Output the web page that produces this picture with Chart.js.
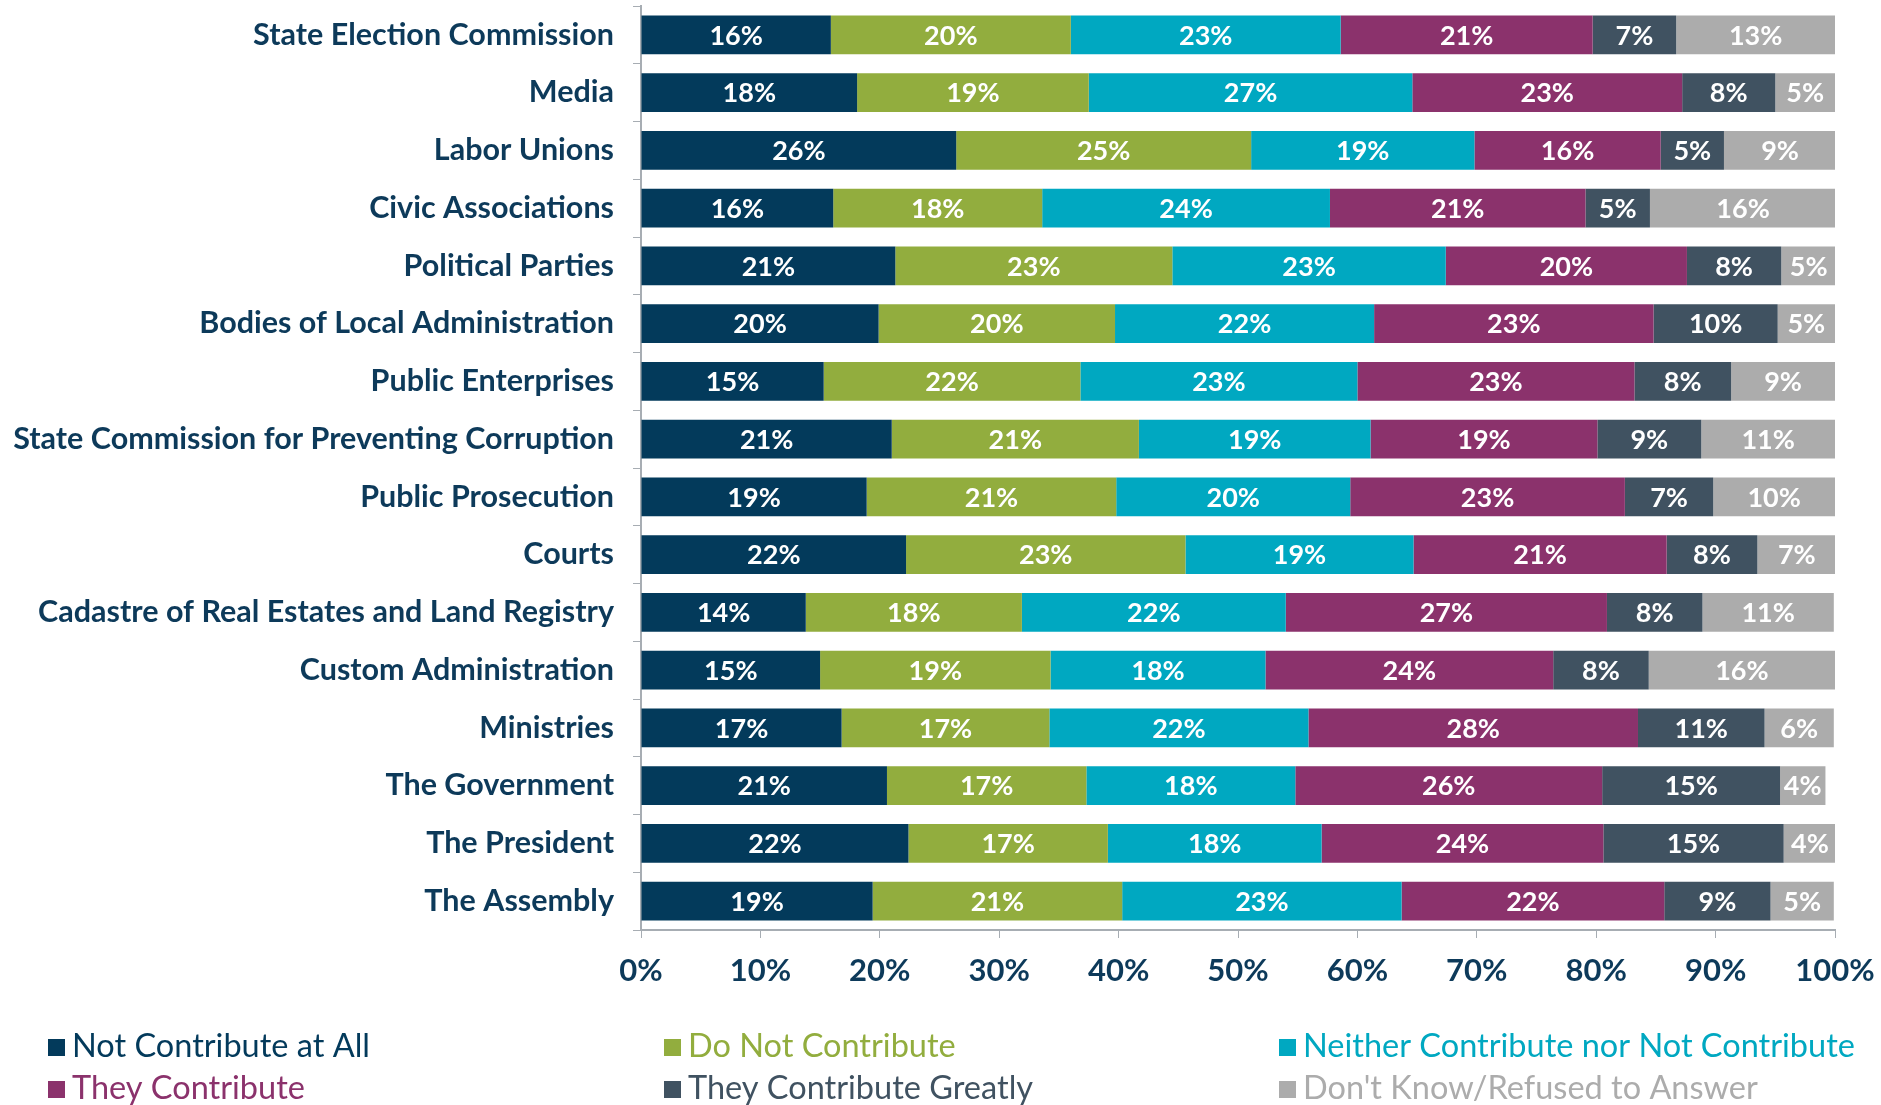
<!DOCTYPE html>
<html>
<head>
<meta charset="utf-8">
<script src="https://cdn.jsdelivr.net/npm/chart.js@4.4.1/dist/chart.umd.min.js"></script>
<style>
  body { margin: 0; background: #fff; }
  #wrap { width: 1881px; height: 1105px; position: relative; }
</style>
</head>
<body>
<div id="wrap"><canvas id="myChart" width="1881" height="1105"></canvas></div>
<script>
const categories = [
  "State Election Commission",
  "Media",
  "Labor Unions",
  "Civic Associations",
  "Political Parties",
  "Bodies of Local Administration",
  "Public Enterprises",
  "State Commission for Preventing Corruption",
  "Public Prosecution",
  "Courts",
  "Cadastre of Real Estates and Land Registry",
  "Custom Administration",
  "Ministries",
  "The Government",
  "The President",
  "The Assembly",
];

const seriesNames = [
  "Not Contribute at All",
  "Do Not Contribute",
  "Neither Contribute nor Not Contribute",
  "They Contribute",
  "They Contribute Greatly",
  "Don't Know/Refused to Answer",
];

const seriesColors = ["#033a5b", "#92ad3e", "#00a8c1", "#8b326c", "#405261", "#acacac"];

const notContributeAtAll = [15.9, 18.1, 26.4, 16.1, 21.3, 19.9, 15.3, 21.0, 18.9, 22.2, 13.8, 15.0, 16.8, 20.6, 22.4, 19.4];
const doNotContribute = [20.1, 19.4, 24.7, 17.5, 23.2, 19.8, 21.5, 20.7, 20.9, 23.4, 18.1, 19.3, 17.4, 16.7, 16.7, 20.9];
const neither = [22.6, 27.1, 18.7, 24.1, 22.9, 21.7, 23.2, 19.4, 19.6, 19.1, 22.1, 18.0, 21.7, 17.5, 17.9, 23.4];
const theyContribute = [21.1, 22.6, 15.6, 21.4, 20.2, 23.4, 23.2, 19.0, 23.0, 21.2, 26.9, 24.1, 27.6, 25.7, 23.6, 22.0];
const contributeGreatly = [7.0, 7.8, 5.3, 5.4, 7.9, 10.4, 8.1, 8.7, 7.4, 7.6, 8.0, 8.0, 10.6, 14.9, 15.1, 8.9];
const dontKnow = [13.3, 5.0, 9.4, 15.6, 4.6, 4.8, 8.7, 11.2, 10.2, 6.6, 11.0, 15.6, 5.8, 3.8, 4.4, 5.3];

const xTicks = [0, 10, 20, 30, 40, 50, 60, 70, 80, 90, 100];

const seriesValues = [notContributeAtAll, doNotContribute, neither, theyContribute, contributeGreatly, dontKnow];

const fontFamily = "Lato, 'Open Sans', sans-serif";
const navy = "#0d3a5a";
const axisGray = "#a7adb3";

// white percent labels inside every segment
const segmentLabels = {
  id: "segmentLabels",
  afterDatasetsDraw(chart) {
    const c = chart.ctx;
    c.save();
    c.font = "bold 27px " + fontFamily;
    c.fillStyle = "#ffffff";
    c.textAlign = "center";
    c.textBaseline = "middle";
    chart.data.datasets.forEach(function (ds, i) {
      chart.getDatasetMeta(i).data.forEach(function (bar, j) {
        const v = ds.data[j];
        c.fillText(Math.round(v) + "%", (bar.x + bar.base) / 2, bar.y + 1);
      });
    });
    c.restore();
  },
};

// legend in three fixed columns, text in series colour
const columnLegend = {
  id: "columnLegend",
  afterDraw(chart) {
    const c = chart.ctx;
    const colX = [48, 664, 1279];
    const rowY = [1047, 1089];
    c.save();
    c.font = "32.5px " + fontFamily;
    c.textBaseline = "middle";
    c.textAlign = "left";
    seriesNames.forEach(function (name, i) {
      const x = colX[i % 3];
      const y = rowY[Math.floor(i / 3)];
      c.fillStyle = seriesColors[i];
      c.fillRect(x, y - 8, 17, 17);
      c.fillText(name, x + 24, y);
    });
    c.restore();
  },
};

const ctx = document.getElementById("myChart").getContext("2d");

new Chart(ctx, {
  type: "bar",
  data: {
    labels: categories,
    datasets: seriesNames.map(function (name, i) {
      return {
        label: name,
        data: seriesValues[i],
        backgroundColor: seriesColors[i],
        borderWidth: 0,
        barPercentage: 0.67,
        categoryPercentage: 1,
      };
    }),
  },
  options: {
    indexAxis: "y",
    responsive: false,
    animation: false,
    devicePixelRatio: 1,
    layout: {
      padding: { top: 6, right: 46, left: 0, bottom: 0 },
    },
    scales: {
      x: {
        stacked: true,
        min: 0,
        max: 100,
        afterBuildTicks: function (scale) {
          scale.ticks = xTicks.map(function (v) {
            return { value: v };
          });
        },
        afterFit: function (scale) {
          scale.height = 175;
          scale.paddingLeft = 0;
          scale.paddingRight = 0;
        },
        ticks: {
          padding: 14,
          color: navy,
          font: { size: 31, family: fontFamily, weight: "bold" },
          callback: function (value) {
            return value + "%";
          },
        },
        grid: {
          drawOnChartArea: false,
          color: axisGray,
          tickLength: 8,
        },
        border: { color: axisGray, width: 2 },
      },
      y: {
        stacked: true,
        afterFit: function (scale) {
          scale.width = 641;
          scale.paddingTop = 0;
          scale.paddingBottom = 0;
        },
        ticks: {
          padding: 19,
          color: navy,
          autoSkip: false,
          font: { size: 30.5, family: fontFamily, weight: "bold" },
        },
        grid: {
          drawOnChartArea: false,
          color: axisGray,
          tickLength: 8,
        },
        border: { color: axisGray, width: 2 },
      },
    },
    plugins: {
      legend: { display: false },
      tooltip: { enabled: false },
    },
  },
  plugins: [segmentLabels, columnLegend],
});
</script>
</body>
</html>
